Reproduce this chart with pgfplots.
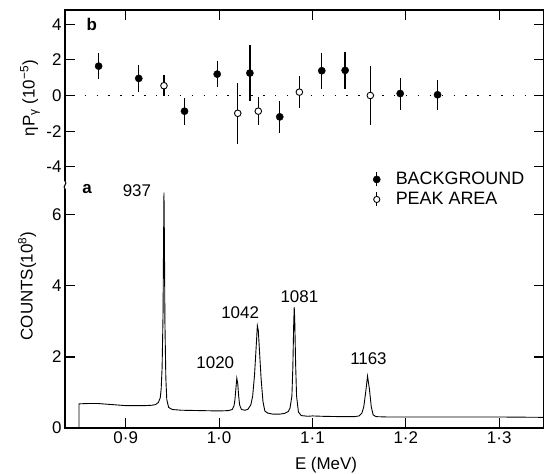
\documentclass[border=0pt]{standalone}
\usepackage{fontspec}
\setmainfont{Liberation Sans}
\usepackage{pgfplots}
\pgfplotsset{compat=1.18}
\newcommand\fs{\fontsize{17}{20}\selectfont}
\newcommand\fl{\fontsize{18}{20}\selectfont}

\begin{document}
\begin{tikzpicture}[font=\fs]
\path[use as bounding box] (-65bp,-46bp) rectangle (479bp,428bp);
\pgfplotsset{
  common/.style={
    scale only axis, width=479bp, xmin=0.835, xmax=1.348,
    separate axis lines, axis line style={draw=none},
    xtick={0.9,1.0,1.1,1.2,1.3},
    major tick length=10bp, tick style={line width=1.1bp, black},
    clip=false,
    every tick label/.append style={font=\fs},
  }
}
% ---------- panel a ----------
\begin{axis}[common, name=bot, at={(0,0)}, anchor=south west,
  height=239bp, ymin=0, ymax=6.73,
  xticklabels={0·9,1·0,1·1,1·2,1·3}, xtick pos=left,
  ytick={0,2,4,6}, yticklabels={0,2,4,6}, ytick pos=both,
  xlabel={E (MeV)}, ylabel={COUNTS(10\textsuperscript{8})},
  every axis x label/.style={at={(axis description cs:0.545,0)}, anchor=center, yshift=-37bp},
  every axis y label/.style={at={(axis description cs:-0.079,0.594)}, anchor=center, rotate=90},
]
\addplot[black, line width=0.9bp] coordinates {
(0.850,0) (0.850,0.68) (0.860,0.69) (0.870,0.69) (0.880,0.67) (0.890,0.65)
(0.900,0.63) (0.910,0.63) (0.920,0.63) (0.928,0.64) (0.932,0.66) (0.935,0.72)
(0.937,0.85) (0.938,1.1) (0.939,1.7) (0.940,3.2) (0.9405,5.0) (0.941,6.63)
(0.9415,5.2) (0.942,3.0) (0.943,1.4) (0.944,0.8) (0.946,0.58) (0.950,0.52)
(0.960,0.50) (0.980,0.49) (1.000,0.48) (1.010,0.49) (1.014,0.52) (1.016,0.62)
(1.017,0.8) (1.018,1.1) (1.019,1.40) (1.020,1.25) (1.021,0.9) (1.022,0.65)
(1.024,0.52) (1.028,0.50) (1.031,0.53) (1.034,0.65) (1.036,0.9) (1.038,1.5)
(1.040,2.4) (1.041,2.88) (1.042,2.75) (1.043,2.3) (1.045,1.4) (1.047,0.75)
(1.049,0.48) (1.052,0.42) (1.058,0.39) (1.065,0.39) (1.070,0.41) (1.074,0.46)
(1.076,0.56) (1.078,0.9) (1.079,1.7) (1.080,3.0) (1.0805,3.4) (1.081,3.1)
(1.082,1.8) (1.083,0.9) (1.085,0.45) (1.088,0.35) (1.095,0.33) (1.100,0.34)
(1.110,0.33) (1.130,0.32) (1.145,0.32) (1.150,0.34) (1.153,0.42) (1.155,0.6)
(1.157,1.0) (1.159,1.46) (1.161,1.1) (1.163,0.6) (1.165,0.37) (1.168,0.32)
(1.180,0.31) (1.200,0.31) (1.230,0.31) (1.260,0.31) (1.300,0.31) (1.348,0.30)
};
\node[font=\fs\bfseries] at (axis description cs:0.046,1.0) {a};
\node at (axis cs:0.912,6.68) {937};
\node at (axis cs:0.996,1.83) {1020};
\node at (axis cs:1.0226,3.24) {1042};
\node at (axis cs:1.086,3.69) {1081};
\node at (axis cs:1.160,1.94) {1163};
\end{axis}
% ---------- panel b ----------
\begin{axis}[common, name=top, at={(0,247bp)}, anchor=south west,
  height=171bp, ymin=-4.8, ymax=4.8,
  xticklabels={}, xtick pos=right,
  ytick={-4,-2,0,2,4}, yticklabels={-4,-2,0,2,4}, ytick pos=both,
  ylabel={ηP\textsubscript{γ} (10\textsuperscript{−5})},
  every axis y label/.style={at={(axis description cs:-0.073,0.485)}, anchor=center, rotate=90},
  legend cell align=left,
  legend style={draw=none, fill=none, font=\fl, at={(axis description cs:0.64,0.057)}, anchor=north west,
    row sep=4bp, inner sep=0pt, nodes={inner sep=1bp}},
]
\addplot[black, only marks, mark=*, mark size=3.6bp,
  error bars/.cd, y dir=both, y explicit, error mark=none,
  error bar style={line width=1.3bp},
  /pgfplots/.cd,
  legend image code/.code={
    \path[draw=none, fill=none] (-5bp,-8bp) rectangle (18bp,8bp);
    \draw[line width=1.2bp, black] (0,-7bp) -- (0,7bp);
    \fill[black] (0,0) circle (3.6bp);}]
  coordinates {
  (0.871,1.65) +- (0,0.72)
  (0.914,0.96) +- (0,0.75)
  (0.963,-0.88) +- (0,0.75)
  (0.998,1.20) +- (0,0.75)
  (1.033,1.26) +- (0,1.55)
  (1.065,-1.20) +- (0,0.90)
  (1.110,1.39) +- (0,1.00)
  (1.135,1.41) +- (0,1.05)
  (1.194,0.11) +- (0,0.90)
  (1.234,0.04) +- (0,0.83)
  };
\addlegendentry{BACKGROUND}
\addplot[black, only marks, mark=*, mark size=3.3bp, mark options={fill=white, line width=0.9bp},
  error bars/.cd, y dir=both, y explicit, error mark=none,
  error bar style={line width=1.3bp},
  /pgfplots/.cd,
  legend image code/.code={
    \path[draw=none, fill=none] (-5bp,-8bp) rectangle (18bp,8bp);
    \draw[line width=1.2bp, black] (0,-7bp) -- (0,7bp);
    \draw[line width=0.9bp, black, fill=white] (0,0) circle (3.1bp);}]
  coordinates {
  (0.941,0.55) +- (0,0.60)
  (1.020,-1.00) +- (0,1.70)
  (1.042,-0.88) +- (0,0.78)
  (1.086,0.19) +- (0,0.88)
  (1.162,0.00) +- (0,1.66)
  };
\addlegendentry{PEAK AREA}
\addplot[black, line width=1.4bp, dash pattern=on 1.4bp off 10.5bp, forget plot]
  coordinates {(0.856,0) (1.348,0)};
\node[font=\fs\bfseries] at (axis description cs:0.056,0.918) {b};
\end{axis}
\draw[line width=1.3bp] (top.south west) -- (top.north west) -- (top.north east) -- (top.south east) -- (bot.north east) -- (bot.south east) -- (bot.south west) -- (bot.north west);
\draw[line width=1.1bp] (top.south west) .. controls +(3bp,-3bp) and +(-3bp,3bp) .. (bot.north west);
\end{tikzpicture}
\end{document}
